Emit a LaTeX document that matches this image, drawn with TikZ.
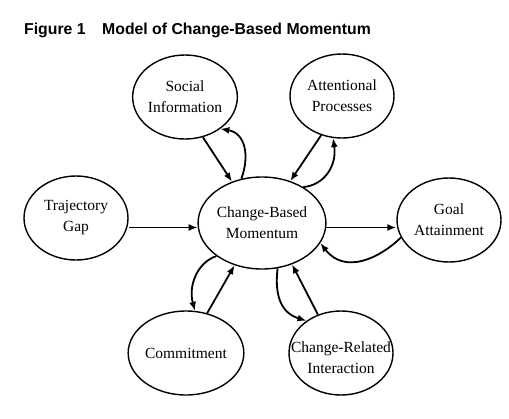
\documentclass[tikz,border=0pt]{standalone}
\usepackage{fontspec}
\setmainfont{Liberation Serif}
\newfontfamily\titlefont{Liberation Sans}
\usetikzlibrary{shapes.geometric,arrows.meta}
\begin{document}
\begin{tikzpicture}[x=1pt,y=-1pt,
  concept/.style={draw=black,line width=1.4pt,ellipse,inner sep=0pt,
    minimum width=104pt,minimum height=84pt,align=center,
    font=\fontsize{15.5}{21}\selectfont},
  plaintext/.style={inner sep=0pt,align=center,font=\fontsize{15.5}{21}\selectfont},
  link/.style={line width=1.8pt,-{Latex[length=9pt,width=7pt]}},
  titletext/.style={inner sep=0pt,anchor=base west,font=\titlefont\bfseries\fontsize{15.8}{18}\selectfont}]
\useasboundingbox (0,0) rectangle (509,418);
\node[titletext] (fig) at (24,34) {Figure 1};
\node[titletext] (ttl) at (102,34) {Model of Change-Based Momentum};

\node[concept] (soc) at (185,97) {Social\\Information};
\node[concept] (att) at (342,96) {Attentional\\Processes};
\node[concept] (traj) at (76,218) {Trajectory\\Gap};
\node[concept,minimum width=104pt,minimum height=92pt] (cbm) at (262,223) {Change-Based\\Momentum};
\node[concept] (goal) at (449,220) {Goal\\Attainment};
\node[concept] (com) at (186,353) {Commitment};
\node[concept] (cri) at (341,353) {};
\node[plaintext] (critxt) at (341,358) {Change-Related\\Interaction};

\draw[link] (soc.-66) -- (cbm.126);
\draw[link] (cbm.115) .. controls (250,155) and (245,133) .. (soc.-42);
\draw[link] (att.-118) -- (cbm.56);
\draw[link] (cbm.41) .. controls (325,185) and (337,165) .. (att.-102);
\draw[link] (traj.east |- cbm.184) -- (cbm.184);
\draw[link] (cbm.-4) -- (cbm.-4 -| goal.west);
\draw[link] (goal.200) .. controls (380,258) and (345,275) .. (cbm.-19);
\draw[link] (cbm.216) .. controls (198,262) and (188,285) .. (com.78);
\draw[link] (com.62) -- (cbm.237);
\draw[link] (cbm.-71) .. controls (275,290) and (278,312) .. (cri.137);
\draw[link] (cri.121) -- (cbm.-54);
\end{tikzpicture}
\end{document}
